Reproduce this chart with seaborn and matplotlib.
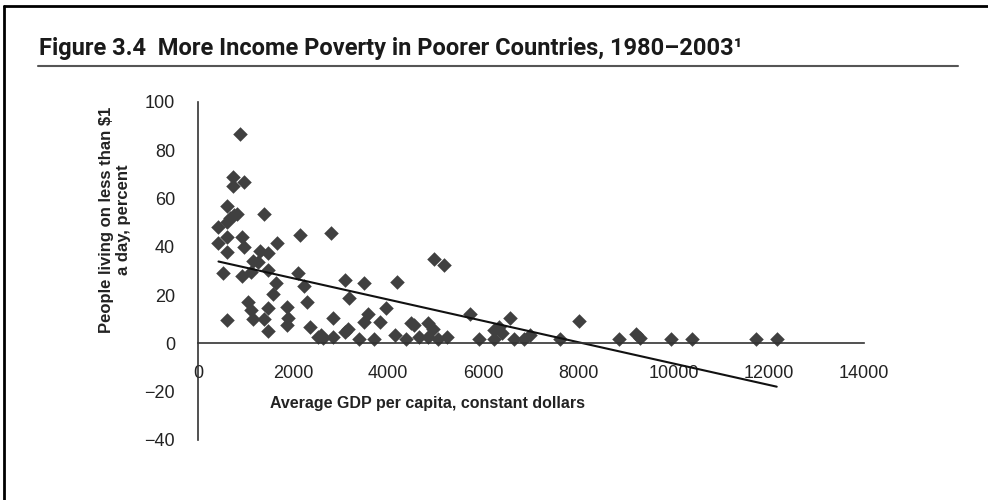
import pandas as pd
import seaborn as sns
import matplotlib.pyplot as plt
from matplotlib.lines import Line2D

# Values (average GDP per capita vs % living on < $1 a day)
gdp = [890, 728, 728, 975, 608, 431, 608, 678, 749, 820, 1385, 431, 608, 926, 608,
       975, 1654, 2148, 2798, 1314, 1470, 1159, 1258, 523, 926, 1124, 1470, 2105, 2233,
       1632, 1583, 3081, 3484, 4183, 4954, 5166, 3173, 2283, 1053, 1124, 1159, 1385,
       1470, 1470, 608, 1866, 1894, 1866, 2353, 2516, 2622, 2587, 2848, 2848, 3081,
       3151, 3385, 3484, 3576, 3696, 3823, 3943, 4147, 4380, 4480, 4548, 4640, 4830,
       4830, 4936, 5041, 5238, 5726, 5901, 6216, 6216, 6321, 6391, 6568, 6638, 6849,
       6989, 7620, 8006, 8848, 9199, 9290, 9950, 10392, 11725, 12167]
poverty = [86.6, 68.8, 65.2, 67.0, 56.9, 48.4, 50.4, 51.8, 53.2, 53.7, 53.6, 41.5, 44.2,
           44.2, 38.0, 40.1, 41.5, 44.9, 45.6, 38.3, 37.3, 34.3, 33.8, 29.1, 28.1, 29.7,
           30.4, 29.1, 23.8, 24.9, 20.5, 26.3, 24.9, 25.6, 35.0, 32.5, 18.7, 17.1, 17.1,
           13.9, 10.0, 10.0, 14.6, 5.3, 9.7, 15.2, 10.4, 7.7, 6.7, 2.8, 2.1, 3.3, 10.4,
           2.8, 4.9, 5.8, 1.9, 8.8, 12.2, 1.9, 8.8, 14.6, 3.6, 1.7, 8.6, 7.7, 2.8, 8.6,
           2.8, 5.9, 1.7, 2.8, 12.2, 1.7, 1.7, 5.6, 7.0, 4.2, 10.4, 1.7, 1.7, 3.5, 1.7,
           9.3, 1.7, 3.8, 2.1, 1.7, 1.7, 1.7, 1.7]

x_ticks = [0, 2000, 4000, 6000, 8000, 10000, 12000, 14000]
y_ticks = [-40, -20, 0, 20, 40, 60, 80, 100]

title = 'Figure 3.4  More Income Poverty in Poorer Countries, 1980\u20132003\u00b9'
x_label = 'Average GDP per capita, constant dollars'
y_label = 'People living on less than $1\na day, percent'

df = pd.DataFrame({'gdp': gdp, 'poverty': poverty})

sns.set_style('white')
plt.rcParams['font.family'] = ['Liberation Sans', 'DejaVu Sans']

fig = plt.figure(figsize=(9.88, 5), dpi=100)
ax = fig.add_axes([0.2004, 0.12, 0.674, 0.676])

sns.regplot(data=df, x='gdp', y='poverty', ax=ax, ci=None, marker='D',
            color='#404040',
            scatter_kws={'s': 55, 'linewidths': 0, 'alpha': 1},
            line_kws={'color': '#111111', 'linewidth': 1.5})

ax.set_xlim(0, 14000)
ax.set_ylim(-40, 100)
ax.set_xticks(x_ticks)
ax.set_yticks(y_ticks)

# x axis sits on y = 0, only left and bottom lines
ax.spines['bottom'].set_position(('data', 0))
ax.spines['top'].set_visible(False)
ax.spines['right'].set_visible(False)
for s in ['left', 'bottom']:
    ax.spines[s].set_color('#333333')
    ax.spines[s].set_linewidth(1.2)

ax.tick_params(axis='both', direction='out', length=6.5, width=1.2,
               color='#333333', labelsize=13, labelcolor='#222222')
ax.tick_params(axis='y', pad=10)
ax.tick_params(axis='x', pad=9)

ax.set_xlabel(x_label, fontsize=11.5, fontweight='bold', color='#222222', va='top')
ax.xaxis.set_label_coords(0.345, 0.13)
ax.set_ylabel(y_label, fontsize=12, fontweight='bold', color='#222222')
ax.yaxis.set_label_coords(-0.1, 0.651)

# title, rule under it and the frame lines on top and left
fig.text(0.039, 0.89, title, fontsize=17, fontweight='bold', color='#1a1a1a',
         family=['Roboto', 'DejaVu Sans'], va='baseline')
fig.add_artist(Line2D([0.038, 0.970], [0.868, 0.868], color='#555555', linewidth=1.5))
fig.add_artist(Line2D([0.004, 1.0], [0.989, 0.989], color='black', linewidth=2))
fig.add_artist(Line2D([0.0045, 0.0045], [0.0, 0.989], color='black', linewidth=2))

fig.savefig('out.png', dpi=100)
